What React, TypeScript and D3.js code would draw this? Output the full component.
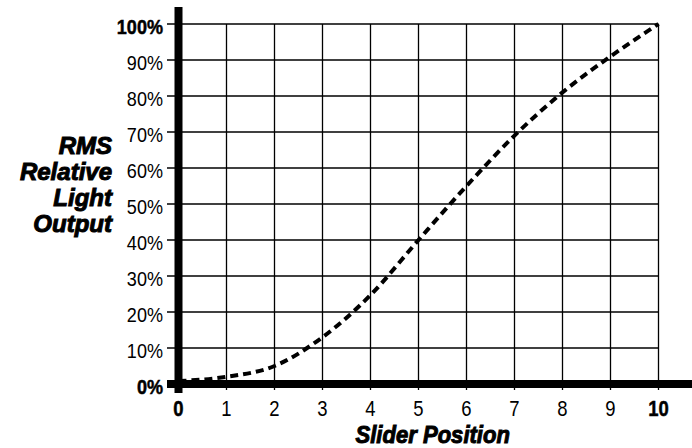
import { useEffect } from "react";
import * as d3 from "d3";

// slider position 0..10 vs RMS relative light output (%)
const positions = [0, 1, 2, 3, 4, 5, 6, 7, 8, 9, 10];
const output = [0.8, 2, 5, 13, 24.7, 40, 55, 69, 81, 91, 100];
const yTicks = [0, 10, 20, 30, 40, 50, 60, 70, 80, 90, 100];
const yTitle = ["RMS", "Relative", "Light", "Output"];
const xTitle = "Slider Position";

const W = 692, H = 448;
const FONT = "'Liberation Sans', Arial, sans-serif";

// condensed text: horizontal squeeze around the anchor point
function Txt({ x, y, sx = 0.85, anchor = "middle", bold = false, italic = false, heavy = 0, size = 21, children }: any) {
  return (
    <text
      transform={`translate(${x},${y}) scale(${sx},1)`}
      textAnchor={anchor}
      fontFamily={FONT}
      fontSize={size}
      fontWeight={bold ? "bold" : "normal"}
      fontStyle={italic ? "italic" : "normal"}
      fill="#000"
      stroke={heavy ? "#000" : "none"}
      strokeWidth={heavy}
    >
      {children}
    </text>
  );
}

export default function App() {
  useEffect(() => {
    document.body.style.margin = "0";
  }, []);

  const x = d3.scaleLinear().domain([0, 10]).range([178.5, 658.5]);
  const y = d3.scaleLinear().domain([0, 100]).range([384, 24]);
  const line = d3.line<number>()
    .x((_d, i) => x(positions[i]))
    .y((d) => y(d))
    .curve(d3.curveMonotoneX);

  const isEnd = (v: number, last: number) => v === 0 || v === last;

  return (
    <svg width={W} height={H} viewBox={`0 0 ${W} ${H}`} style={{ display: "block", background: "#fff" }}>
      {/* grid */}
      <g stroke="#000" strokeWidth={1.3}>
        {yTicks.map((t) => (
          <line key={"h" + t} x1={167} x2={x(10)} y1={y(t)} y2={y(t)} />
        ))}
        {positions.map((p) => (
          <line key={"v" + p} x1={x(p)} x2={x(p)} y1={y(100)} y2={390} />
        ))}
      </g>
      {/* axes */}
      <line x1={x(0)} x2={x(0)} y1={7} y2={393} stroke="#000" strokeWidth={8} />
      <line x1={167} x2={W} y1={y(0)} y2={y(0)} stroke="#000" strokeWidth={8} />
      {/* curve */}
      <path d={line(output) ?? ""} fill="none" stroke="#000" strokeWidth={4} strokeDasharray="8 5" />
      {/* y tick labels */}
      {yTicks.map((t) => (
        <Txt key={"yl" + t} x={163} y={y(t) + 10} anchor="end" size={21} sx={0.86} bold={isEnd(t, 100)} heavy={isEnd(t, 100) ? 0.5 : 0}>
          {t}%
        </Txt>
      ))}
      {/* x tick labels */}
      {positions.map((p) => (
        <Txt key={"xl" + p} x={x(p)} y={416} size={22} sx={0.84} bold={isEnd(p, 10)} heavy={isEnd(p, 10) ? 0.5 : 0}>
          {p}
        </Txt>
      ))}
      {/* titles */}
      {yTitle.map((s, i) => (
        <Txt key={s} x={112} y={153.5 + i * 26} anchor="end" size={24} sx={1.0} bold italic heavy={1}>
          {s}
        </Txt>
      ))}
      <Txt x={432.7} y={443} size={24} sx={0.92} bold italic heavy={1}>
        {xTitle}
      </Txt>
    </svg>
  );
}
